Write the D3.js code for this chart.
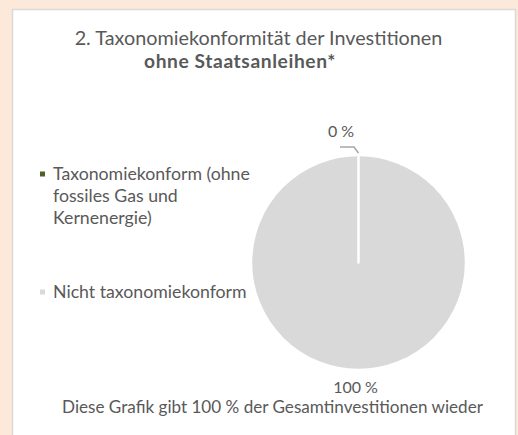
<!DOCTYPE html>
<html>
<head>
<meta charset="utf-8">
<script src="https://cdn.jsdelivr.net/npm/d3@7"></script>
<style>
  html, body { margin: 0; padding: 0; background: #fde9d9; }
  svg { display: block; }
  text { font-family: Lato, "Open Sans", sans-serif; fill: #595959; }
</style>
</head>
<body>
<svg id="chart" width="518" height="435"></svg>
<script>
// ---- data ----
const categories = ["Taxonomiekonform (ohne fossiles Gas und Kernenergie)", "Nicht taxonomiekonform"];
const values = [0, 100];
const valueLabels = ["0 %", "100 %"];
const legendLines = [["Taxonomiekonform (ohne", "fossiles Gas und", "Kernenergie)"], ["Nicht taxonomiekonform"]];
const colors = ["#4f6228", "#d9d9d9"];
const titleLines = ["2. Taxonomiekonformität der Investitionen", "ohne Staatsanleihen*"];
const footerText = "Diese Grafik gibt 100 % der Gesamtinvestitionen wieder";

// ---- layout ----
const svg = d3.select("#chart");
const W = 518, H = 435;

function fit(sel, target) {
  const w = sel.node().getComputedTextLength();
  const fs = parseFloat(sel.attr("font-size"));
  sel.attr("font-size", (fs * target / w).toFixed(2));
  return sel;
}

// panel
svg.append("rect")
  .attr("x", 12.5).attr("y", 9.5)
  .attr("width", 503).attr("height", H + 20)
  .attr("fill", "#ffffff")
  .attr("stroke", "#d9d9d9").attr("stroke-width", 1.5);

// title
const t1 = svg.append("text").attr("x", 258.5).attr("y", 45)
  .attr("text-anchor", "middle").attr("font-size", 16).text(titleLines[0]);
fit(t1, 368);
const t2 = svg.append("text").attr("x", 240).attr("y", 68)
  .attr("text-anchor", "middle").attr("font-size", parseFloat(t1.attr("font-size")) * 0.97)
  .attr("font-weight", "bold").attr("letter-spacing", 0.6).text(titleLines[1]);

// pie
const cx = 358.5, cy = 262.5, r = 107.5;
const pie = d3.pie().sort(null).value(d => d)(values);
const arc = d3.arc().innerRadius(0).outerRadius(r);
const g = svg.append("g").attr("transform", `translate(${cx},${cy})`);

// draw larger slices first so zero-width slice border stays visible
const order = pie.map((d, i) => i).sort((a, b) => values[b] - values[a]);
g.selectAll("path.slice")
  .data(order.map(i => ({ ...pie[i], idx: i })))
  .join("path")
  .attr("class", "slice")
  .attr("d", arc)
  .attr("fill", d => colors[d.idx])
  .attr("stroke", "#ffffff")
  .attr("stroke-width", 2.5)
  .attr("stroke-linejoin", "round");

// labels
function polar(rad, ang) { return [rad * Math.sin(ang), -rad * Math.cos(ang)]; }
const labelFont = 16;

// zero-value label with leader
{
  const d = pie[0];
  const mid = (d.startAngle + d.endAngle) / 2;
  const p0 = polar(r + 2, mid);
  const p1 = [p0[0] - 4.5, p0[1] - 6];
  const p2 = [p1[0] - 14, p1[1]];
  g.append("path")
    .attr("d", d3.line()([p0, p1, p2]))
    .attr("fill", "none").attr("stroke", "#a6a6a6").attr("stroke-width", 1.5);
  g.append("text").attr("x", p2[0] + 1).attr("y", p2[1] - 10)
    .attr("text-anchor", "middle").attr("font-size", labelFont).text(valueLabels[0]);
}
{
  const d = pie[1];
  const mid = (d.startAngle + d.endAngle) / 2;
  const p = polar(r + 23, mid);
  g.append("text").attr("x", p[0] - 3).attr("y", p[1])
    .attr("text-anchor", "middle").attr("font-size", labelFont).text(valueLabels[1]);
}

// legend
const legendY = [180, 298];
const lineH = 22;
const leg = svg.append("g");
legendLines.forEach((lines, i) => {
  leg.append("rect")
    .attr("x", 40).attr("y", legendY[i] - 8.5)
    .attr("width", 5).attr("height", 5)
    .attr("fill", colors[i]);
  lines.forEach((ln, j) => {
    leg.append("text").attr("class", "lg")
      .attr("x", 53).attr("y", legendY[i] + j * lineH)
      .attr("font-size", 16).text(ln);
  });
});
// fit legend font to the first line width
{
  const first = leg.select("text.lg");
  fit(first, 197);
  leg.selectAll("text.lg").attr("font-size", first.attr("font-size"));
}

// footer
const ft = svg.append("text").attr("x", 272.5).attr("y", 413)
  .attr("text-anchor", "middle").attr("font-size", 16).text(footerText);
fit(ft, 421);
</script>
</body>
</html>
